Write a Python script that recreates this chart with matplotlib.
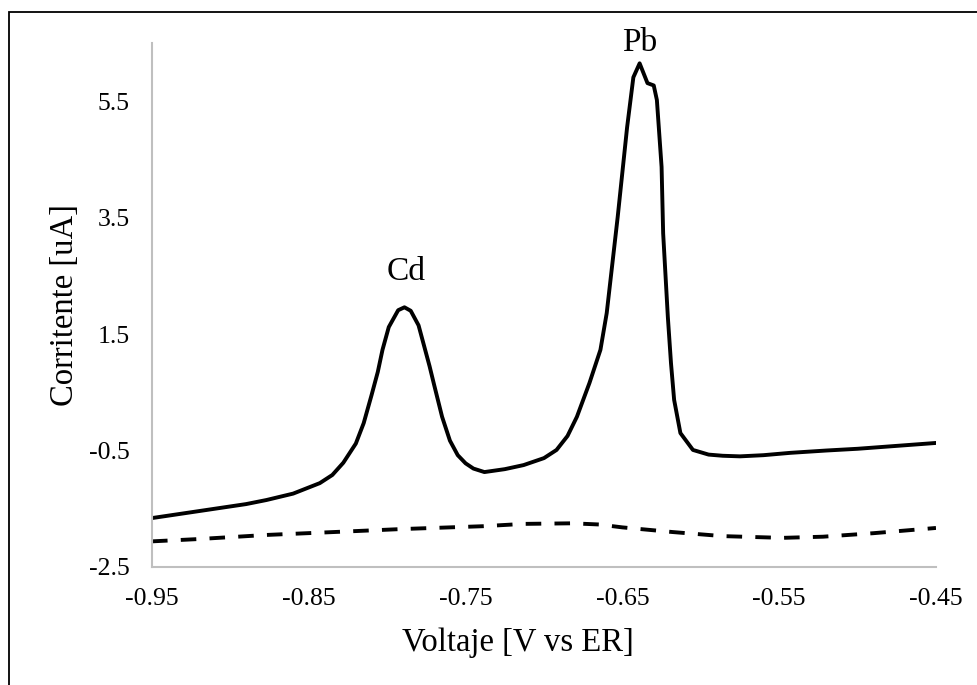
import matplotlib
matplotlib.use("Agg")
import matplotlib.pyplot as plt
from matplotlib.patches import Rectangle

plt.rcParams['font.family'] = ['Liberation Serif', 'DejaVu Serif']

# Solid curve (sample) - voltage [V] and current [uA]
volt_sample = [-0.95, -0.93, -0.91, -0.89, -0.877, -0.86, -0.843, -0.835, -0.828, -0.82,
               -0.815, -0.81, -0.806, -0.803, -0.799, -0.793, -0.789, -0.785, -0.780, -0.777,
               -0.773, -0.770, -0.765, -0.760, -0.755, -0.750, -0.745, -0.738, -0.725, -0.713,
               -0.70, -0.692, -0.685, -0.679, -0.671, -0.664, -0.660, -0.653, -0.647, -0.643,
               -0.639, -0.634, -0.630, -0.628, -0.625, -0.624, -0.621, -0.619, -0.617, -0.613,
               -0.605, -0.595, -0.586, -0.575, -0.56, -0.543, -0.52, -0.50, -0.475, -0.45]
curr_sample = [-1.66, -1.58, -1.50, -1.42, -1.35, -1.24, -1.06, -0.92, -0.71, -0.38,
               -0.03, 0.45, 0.85, 1.23, 1.62, 1.91, 1.96, 1.90, 1.65, 1.35,
               0.95, 0.62, 0.08, -0.33, -0.58, -0.72, -0.81, -0.87, -0.82, -0.75,
               -0.63, -0.49, -0.25, 0.08, 0.66, 1.23, 1.86, 3.51, 5.05, 5.91,
               6.15, 5.81, 5.77, 5.52, 4.37, 3.23, 1.79, 1.00, 0.37, -0.20,
               -0.49, -0.57, -0.59, -0.60, -0.58, -0.54, -0.50, -0.47, -0.42, -0.37]

# Dashed curve (blank)
volt_blank = [-0.95, -0.92, -0.877, -0.834, -0.792, -0.739, -0.713, -0.682, -0.665, -0.650,
              -0.618, -0.586, -0.548, -0.522, -0.490, -0.45]
curr_blank = [-2.06, -2.02, -1.95, -1.90, -1.85, -1.80, -1.76, -1.75, -1.77, -1.82,
              -1.90, -1.97, -2.00, -1.98, -1.92, -1.83]

x_ticks = [-0.95, -0.85, -0.75, -0.65, -0.55, -0.45]
y_ticks = [-2.5, -0.5, 1.5, 3.5, 5.5]
peak_labels = ["Cd", "Pb"]
peak_pos = [(-0.788, 2.57), (-0.639, 6.5)]

fig = plt.figure(figsize=(9.77, 6.85), dpi=100)
ax = fig.add_axes([0.1556, 0.1723, 0.8024, 0.7650])

ax.plot(volt_sample, curr_sample, color='black', lw=2.8, solid_joinstyle='round')
ax.plot(volt_blank, curr_blank, color='black', lw=2.8, linestyle=(0, (4.0, 3.4)))

for lab, (px, py) in zip(peak_labels, peak_pos):
    ax.text(px, py, lab, ha='center', va='center', fontsize=24, clip_on=False)

ax.set_xlim(-0.95, -0.45)
ax.set_ylim(-2.5, 6.5)
ax.set_xticks(x_ticks)
ax.set_xticklabels([f"{v:.2f}" for v in x_ticks])
ax.set_yticks(y_ticks)
ax.set_yticklabels([f"{v:.1f}" for v in y_ticks])
ax.tick_params(axis='both', length=0, labelsize=18.5, colors='black')
ax.tick_params(axis='y', pad=16)
ax.tick_params(axis='x', pad=15)

for s in ['top', 'right']:
    ax.spines[s].set_visible(False)
for s in ['left', 'bottom']:
    ax.spines[s].set_color('#BFBFBF')
    ax.spines[s].set_linewidth(1.5)

ax.set_ylabel("Corritente [uA]", fontsize=23.5)
ax.yaxis.set_label_coords(-0.092, 0.5)
fig.text(518/977, 1 - 643/685, "Voltaje [V vs ER]", ha='center', va='center', fontsize=23.5)

# outer border (only left and top visible in the cropped original)
fig.patches.append(Rectangle((9/977, -0.1), 1.2, 1 - 12/685 + 0.1, transform=fig.transFigure,
                             fill=False, edgecolor='black', lw=1.3))

fig.savefig("out.png", dpi=100)
